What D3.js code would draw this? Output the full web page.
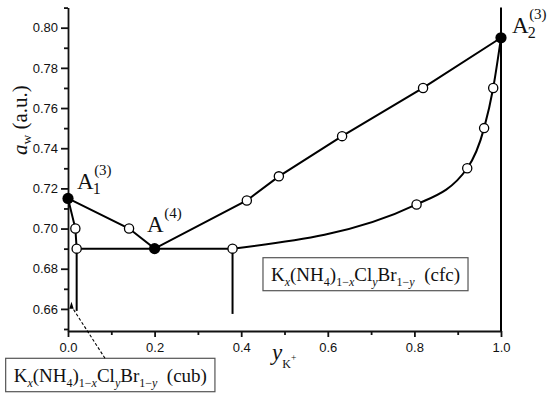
<!DOCTYPE html>
<html>
<head>
<meta charset="utf-8">
<script src="https://cdn.jsdelivr.net/npm/d3@7"></script>
<style>
  body { margin: 0; background: #fff; }
  svg { display: block; }
  .tick text { font-family: "Liberation Sans", Arial, sans-serif; font-size: 13px; fill: #111; }
  .serif { font-family: "Liberation Serif", "Times New Roman", serif; fill: #111; white-space: pre; }
</style>
</head>
<body>
<script>
var width = 550;
var height = 398;

// ticks
var xTicks = [0, 0.2, 0.4, 0.6, 0.8, 1.0];
var xMinor = [0.1, 0.3, 0.5, 0.7, 0.9];
var yTicks = [0.66, 0.68, 0.70, 0.72, 0.74, 0.76, 0.78, 0.80];
var yMinor = [0.65, 0.67, 0.69, 0.71, 0.73, 0.75, 0.77, 0.79, 0.81];

// upper branch A1 -> A(4) -> A2
var upperLine = [[0, 0.715], [0.141, 0.700], [0.200, 0.690], [0.413, 0.714],
                 [0.487, 0.726], [0.633, 0.746], [0.820, 0.770], [1.0, 0.795]];
// short branch from A1 down
var leftLine = [[0, 0.715], [0.017, 0.700], [0.020, 0.690]];
// horizontal line through A(4)
var flatLine = [[0.020, 0.690], [0.380, 0.690]];
// curved branch to A2
var curveLine = [[0.380, 0.690], [0.805, 0.712], [0.922, 0.730], [0.961, 0.750],
                 [0.982, 0.770], [1.0, 0.795]];
// vertical drops [x, yTop, yBottom]
var dropLines = [[0.020, 0.690, 0.659], [0.380, 0.690, 0.6575], [1.0, 0.81, 0.649]];

// open circles
var openPts = [[0.017, 0.700], [0.020, 0.690], [0.141, 0.700], [0.380, 0.690],
               [0.413, 0.714], [0.487, 0.726], [0.633, 0.746], [0.820, 0.770],
               [0.805, 0.712], [0.922, 0.730], [0.961, 0.750], [0.982, 0.770]];
// invariant points (filled)
var invPts = [[0, 0.715], [0.200, 0.690], [1.0, 0.795]];
var invSub = ["1", "", "2"];
var invSup = ["(3)", "(4)", "(3)"];

var x = d3.scaleLinear().domain([0, 1]).range([68, 501]);
var y = d3.scaleLinear().domain([0.649, 0.81]).range([331, 7.6]);

var svg = d3.select("body").append("svg")
    .attr("width", width)
    .attr("height", height);

// axes
var axisStyle = function(g) {
  g.selectAll("path, line").attr("stroke", "#111").attr("stroke-width", 1.8);
};

svg.append("g")
    .attr("transform", "translate(0," + y.range()[0] + ")")
    .call(d3.axisBottom(x).tickValues(xTicks).tickFormat(d3.format(".1f"))
          .tickSize(6).tickPadding(6).tickSizeOuter(0))
    .call(axisStyle);
svg.append("g")
    .attr("transform", "translate(0," + y.range()[0] + ")")
    .call(d3.axisBottom(x).tickValues(xMinor).tickFormat("").tickSize(4))
    .call(function(g) { g.select(".domain").remove(); })
    .call(axisStyle);

svg.append("g")
    .attr("transform", "translate(" + x.range()[0] + ",0)")
    .call(d3.axisLeft(y).tickValues(yTicks).tickFormat(d3.format(".2f"))
          .tickSize(7).tickPadding(3).tickSizeOuter(0))
    .call(axisStyle);
svg.append("g")
    .attr("transform", "translate(" + x.range()[0] + ",0)")
    .call(d3.axisLeft(y).tickValues(yMinor).tickFormat("").tickSize(4))
    .call(function(g) { g.select(".domain").remove(); })
    .call(axisStyle);

// lines
var line = d3.line().x(function(d) { return x(d[0]); }).y(function(d) { return y(d[1]); });
var curve = d3.line().curve(d3.curveMonotoneX)
    .x(function(d) { return x(d[0]); }).y(function(d) { return y(d[1]); });

[upperLine, leftLine, flatLine].forEach(function(pts) {
  svg.append("path").attr("d", line(pts))
     .attr("fill", "none").attr("stroke", "#000").attr("stroke-width", 2);
});
svg.append("path").attr("d", curve(curveLine))
   .attr("fill", "none").attr("stroke", "#000").attr("stroke-width", 2);

svg.selectAll(".drop").data(dropLines).enter().append("line")
    .attr("x1", function(d) { return x(d[0]); })
    .attr("x2", function(d) { return x(d[0]); })
    .attr("y1", function(d) { return y(d[1]); })
    .attr("y2", function(d) { return y(d[2]); })
    .attr("stroke", "#000").attr("stroke-width", 2);

// points
svg.selectAll(".open").data(openPts).enter().append("circle")
    .attr("cx", function(d) { return x(d[0]); })
    .attr("cy", function(d) { return y(d[1]); })
    .attr("r", 4.6)
    .attr("fill", "#fff").attr("stroke", "#000").attr("stroke-width", 1.3);

svg.selectAll(".inv").data(invPts).enter().append("circle")
    .attr("cx", function(d) { return x(d[0]); })
    .attr("cy", function(d) { return y(d[1]); })
    .attr("r", 5.6)
    .attr("fill", "#000");

// rich text helper: parts = [text, "sub"|"subit"|"it"|"sup"|""]
function rich(sel, parts, size, subSize, shift) {
  var cur = 0;
  parts.forEach(function(p) {
    var want = (p[1] === "sub" || p[1] === "subit") ? shift : (p[1] === "sup" ? -shift : 0);
    var t = sel.append("tspan").text(p[0]).attr("dy", want - cur);
    if (p[1] === "sub" || p[1] === "subit" || p[1] === "sup") t.style("font-size", subSize + "px");
    if (p[1] === "it" || p[1] === "subit") t.style("font-style", "italic");
    cur = want;
  });
  return sel;
}

// invariant point labels
var labelOff = [[9, -9], [-7.5, -17], [11, -4.7]];
invPts.forEach(function(d, i) {
  var lx = x(d[0]) + labelOff[i][0], ly = y(d[1]) + labelOff[i][1];
  var a = svg.append("text").attr("class", "serif").attr("x", lx).attr("y", ly)
      .style("font-size", "23px").text("A");
  var aw = a.node().getComputedTextLength();
  if (invSub[i]) {
    svg.append("text").attr("class", "serif").attr("x", lx + aw - 1).attr("y", ly + 5)
       .style("font-size", "16px").text(invSub[i]);
  }
  svg.append("text").attr("class", "serif").attr("x", lx + aw + 0.5).attr("y", ly - 14)
     .style("font-size", "15px").text(invSup[i]);
});

// phase boxes
var formula = [["K", ""], ["x", "subit"], ["(NH", ""], ["4", "sub"], [")", ""],
               ["1\u2212", "sub"], ["x", "subit"], ["Cl", ""], ["y", "subit"],
               ["Br", ""], ["1\u2212", "sub"], ["y", "subit"]];
var boxes = [{cx: 365.5, base: 281, top: 257.7, h: 33, tag: "  (cfc)"},
             {cx: 110.3, base: 382, top: 358.3, h: 33.4, tag: "  (cub)"}];

boxes.forEach(function(b) {
  var g = svg.append("g");
  var rect = g.append("rect");
  var t = g.append("text").attr("class", "serif")
      .attr("x", b.cx).attr("y", b.base)
      .attr("text-anchor", "middle").style("font-size", "19px");
  rich(t, formula.concat([[b.tag, ""]]), 19, 12, 5);
  var bb = t.node().getBBox();
  rect.attr("x", bb.x - 8).attr("width", bb.width + 16)
      .attr("y", b.top).attr("height", b.h)
      .attr("fill", "#fff").attr("stroke", "#555").attr("stroke-width", 1.2);
});

// arrow from cub box to the left phase
var tipX = x(0.008), tipY = y(0.6636);
svg.append("line")
    .attr("x1", 105).attr("y1", 358.3)
    .attr("x2", tipX + 1.5).attr("y2", tipY + 7)
    .attr("stroke", "#000").attr("stroke-width", 1.1)
    .attr("stroke-dasharray", "3,2");
svg.append("path")
    .attr("d", "M" + tipX + "," + tipY + "L" + (tipX - 2.2) + "," + (tipY + 7) +
               "L" + (tipX + 2.2) + "," + (tipY + 7) + "Z")
    .attr("fill", "#000");

// axis titles
var yt = svg.append("text").attr("class", "serif")
    .attr("transform", "translate(26.5,155) rotate(-90)")
    .style("font-size", "21px");
rich(yt, [["a", "it"], ["w", "sub"], [" (a.u.)", ""]], 21, 13.5, 4);

var xt = svg.append("text").attr("class", "serif")
    .attr("x", 272).attr("y", 359.5);
xt.append("tspan").text("y").style("font-style", "italic").style("font-size", "23px");
xt.append("tspan").text("K").attr("dy", 8).style("font-size", "12px");
xt.append("tspan").text("+").attr("dy", -7).style("font-size", "9.5px");
</script>
</body>
</html>
